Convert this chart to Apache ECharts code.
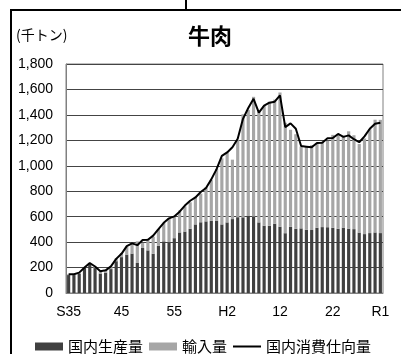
<!DOCTYPE html>
<html>
<head>
<meta charset="utf-8">
<script src="https://cdn.jsdelivr.net/npm/echarts@6/dist/echarts.min.js"></script>
<style>
html,body{margin:0;padding:0;background:#fff;}
#c{width:401px;height:354px;}
</style>
</head>
<body>
<div id="c"></div>
<script>
// Fiscal years 1960 (S35) .. 2019 (R1)
const years = ["1960","1961","1962","1963","1964","1965","1966","1967","1968","1969",
"1970","1971","1972","1973","1974","1975","1976","1977","1978","1979",
"1980","1981","1982","1983","1984","1985","1986","1987","1988","1989",
"1990","1991","1992","1993","1994","1995","1996","1997","1998","1999",
"2000","2001","2002","2003","2004","2005","2006","2007","2008","2009",
"2010","2011","2012","2013","2014","2015","2016","2017","2018","2019"];

// tick labels: [category index, label]
const tickLabels = [[0,"S35"],[10,"45"],[20,"55"],[30,"H2"],[40,"12"],[50,"22"],[59,"R1"]];

// 国内生産量 (千トン)
const domestic = [141,141,153,198,229,196,153,160,188,250,
282,302,310,236,354,335,309,371,406,400,
431,476,483,505,539,556,563,568,569,539,
555,581,596,595,605,601,555,529,529,545,
521,470,520,505,508,497,495,513,518,517,
512,505,514,506,502,475,463,471,476,471];

// 輸入量 (千トン)
const imports = [6,6,4,5,6,11,14,20,19,23,
33,62,77,170,40,91,134,132,146,189,
172,172,198,208,213,225,268,319,408,520,
549,467,605,810,834,941,873,941,974,975,
1055,868,763,743,643,654,667,662,671,679,
731,737,722,765,738,696,752,817,886,890];

// 国内消費仕向量 (千トン)
const consumption = [147,147,160,201,236,208,171,178,209,268,
308,368,390,376,417,418,451,502,552,587,
602,639,687,725,751,794,825,893,974,1078,
1105,1145,1212,1369,1454,1526,1418,1473,1496,1504,
1554,1304,1333,1291,1155,1150,1145,1179,1181,1216,
1218,1250,1227,1239,1209,1185,1231,1291,1331,1339];

const tickMap = {};
tickLabels.forEach(function(p){ tickMap[p[0]] = p[1]; });

const chart = echarts.init(document.getElementById('c'), null, {renderer:'canvas'});
const font = "'Liberation Sans', Arial, 'Noto Sans CJK JP', sans-serif";
const cjk = "'Noto Sans CJK JP', sans-serif";

chart.setOption({
  animation: false,
  backgroundColor: '#fff',
  textStyle: {fontFamily: font},
  title: {
    text: '牛肉',
    left: 183, top: 20,
    textStyle: {fontSize: 22, fontWeight: 'bold', color: '#000', fontFamily: cjk}
  },
  graphic: [
    {type:'rect', shape:{x:11, y:10, width:600, height:600}, style:{fill:'none', stroke:'#000', lineWidth:2}, silent:true},
    {type:'line', shape:{x1:186, y1:0, x2:186, y2:10}, style:{stroke:'#000', lineWidth:2}, silent:true},
    {type:'text', left:16, top:28, style:{text:'(千トン)', font:'14px ' + cjk, fill:'#000'}}
  ],
  legend: {
    left: 30, top: 334, width: 380,
    itemWidth: 28, itemHeight: 8, itemGap: 6,
    textStyle: {fontSize: 15, color: '#000', fontFamily: cjk},
    data: [
      {name:'国内生産量', icon:'rect'},
      {name:'輸入量', icon:'rect'},
      {name:'国内消費仕向量', icon:'path://M0,0 L0.01,0 L0.01,0.01 L0,0.01 Z M28,7.99 L28.01,7.99 L28.01,8 L28,8 Z M0,3.1 L28,3.1 L28,4.9 L0,4.9 Z'}
    ]
  },
  grid: {left: 66, right: 18, top: 64, bottom: 61, containLabel: false,
    show: true, borderColor: '#808080', borderWidth: 1},
  xAxis: {
    type: 'category',
    data: years,
    boundaryGap: true,
    axisLine: {show: true, lineStyle: {color: '#808080'}},
    axisTick: {show: false},
    axisLabel: {
      interval: 0,
      margin: 12,
      fontSize: 14,
      color: '#000',
      formatter: function(v, i){ return tickMap[i] !== undefined ? tickMap[i] : ''; }
    },
    splitLine: {show: false}
  },
  yAxis: {
    type: 'value',
    min: 0, max: 1800, interval: 200,
    axisLine: {show: true, lineStyle: {color: '#808080'}},
    axisTick: {show: false},
    axisLabel: {
      margin: 13, fontSize: 14, color: '#000',
      formatter: function(v){ return v.toLocaleString('en-US'); }
    },
    splitLine: {show: true, lineStyle: {color: '#444', width: 1}}
  },
  series: [
    {name:'国内生産量', type:'bar', stack:'s', data: domestic,
     barCategoryGap: '40%', itemStyle:{color:'#404040'}},
    {name:'輸入量', type:'bar', stack:'s', data: imports,
     barCategoryGap: '40%', itemStyle:{color:'#a6a6a6'}},
    {name:'国内消費仕向量', type:'line', data: consumption,
     symbol:'none', lineStyle:{color:'#000', width:2}, itemStyle:{color:'#000'}, z: 5}
  ]
});
</script>
</body>
</html>
